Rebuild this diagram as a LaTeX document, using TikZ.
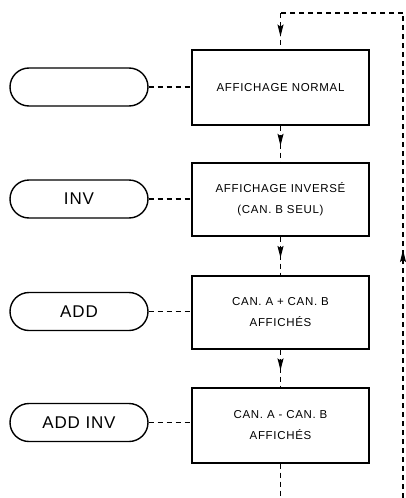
\documentclass[tikz,border=0pt]{standalone}
\usepackage{fontspec}
\setmainfont{Liberation Sans}
\usetikzlibrary{arrows.meta,decorations.markings}
\newfontfamily\boxfont[LetterSpace=6]{Liberation Sans}
\newfontfamily\keyfont[LetterSpace=5]{Liberation Sans}
\begin{document}
\begin{tikzpicture}[x=1pt,y=-1pt,
  stepbox/.style={draw,line width=1.4pt,minimum width=177pt,inner sep=0pt,
    align=center,font=\boxfont\fontsize{11.5}{21}\selectfont},
  keypill/.style={draw,line width=1.4pt,minimum width=138pt,minimum height=38pt,
    rounded corners=19pt,inner sep=0pt,font=\keyfont\fontsize{17}{19}\selectfont},
  link/.style={line width=1.1pt,dash pattern=on 5pt off 4pt},
  flowtip/.tip={Stealth[length=12pt,width=6pt,inset=2pt]},
  flow/.style={link,postaction={decorate},decoration={markings,
    mark=at position #1 with {\arrow[solid]{flowtip}}}},
  flow/.default=0.55]
\useasboundingbox (0,0) rectangle (406,498);

% mode blocks
\node[stepbox,minimum height=75pt] (b1) at (280.5,87.5) {AFFICHAGE NORMAL};
\node[stepbox,minimum height=73pt] (b2) at (280.5,199.5) {AFFICHAGE INVERSÉ\\(CAN. B SEUL)};
\node[stepbox,minimum height=73pt] (b3) at (280.5,312.5) {CAN. A + CAN. B\\AFFICHÉS};
\node[stepbox,minimum height=75pt] (b4) at (280.5,425.5) {CAN. A - CAN. B\\AFFICHÉS};

% key captions
\node[keypill] (k1) at (79,87) {};
\node[keypill] (k2) at (79,199) {INV};
\node[keypill] (k3) at (79,311.5) {ADD};
\node[keypill] (k4) at (79,422.5) {ADD INV};

% keys to blocks
\foreach \i in {1,2,3,4} \draw[link] (k\i.east) -- (k\i.east -| b\i.west);

% sequence between blocks
\draw[flow] (b1.south) -- (b2.north);
\draw[flow] (b2.south) -- (b3.north);
\draw[flow] (b3.south) -- (b4.north);

% return loop
\coordinate (rb) at (403,498);
\coordinate (rt) at (403,13);
\coordinate (lt) at (b1.north |- rt);
\coordinate (bb) at (b4.south |- rb);
\coordinate (ra0) at (403,262);
\coordinate (ra) at (403,250);
\draw[link] (b4.south) -- (bb);
\draw[link] (rb) -- (rt);
\draw[line width=1.1pt,-{flowtip}] (ra0) -- (ra);
\draw[link] (rt) -- (lt);
\draw[flow=0.65] (lt) -- (b1.north);
\end{tikzpicture}
\end{document}
